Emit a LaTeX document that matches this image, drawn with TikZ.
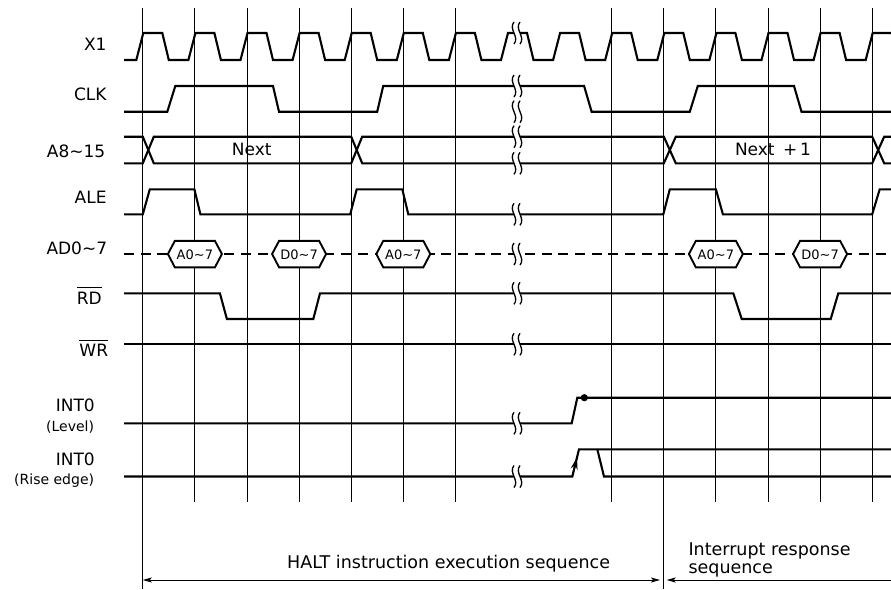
\documentclass[tikz,border=0pt]{standalone}
\usepackage{fontspec}
\setmainfont{DejaVu Sans}
\usetikzlibrary{arrows.meta}
\newcommand\gX[1]{(142.8+52.1*(#1))}
\newcommand\ovl[1]{\leavevmode\vbox{\hrule height 0.9pt\kern 3.5pt\hbox{#1}}}
\newcommand\brkmark[2]{%
  \fill[white] (#1,#2-11) .. controls (#1-6,#2-4) and (#1+6,#2+4) .. (#1,#2+11) -- (#1+6,#2+11) .. controls (#1+12,#2+4) and (#1,#2-4) .. (#1+6,#2-11) -- cycle;
  \draw[brk] (#1,#2-11) .. controls (#1-6,#2-4) and (#1+6,#2+4) .. (#1,#2+11);
  \draw[brk] (#1+6,#2-11) .. controls (#1,#2-4) and (#1+12,#2+4) .. (#1+6,#2+11);
}
\newcommand\hexbox[3]{%
  \draw[hexl] ({#1-27},254) -- ({#1-20},240.8) -- ({#1+20},240.8) -- ({#1+27},254) -- ({#1+20},267.4) -- ({#1-20},267.4) -- cycle;
  \node[boxtxt] (#3) at ({#1},254.5) {#2};
}
\tikzset{
  sig/.style={line width=2.1pt, line join=miter, miter limit=4},
  gridl/.style={line width=0.9pt},
  brk/.style={line width=1.3pt},
  hexl/.style={line width=1.9pt, fill=white, line join=miter},
  lbl/.style={anchor=base east, inner sep=0pt, font=\fontsize{17}{20}\selectfont},
  sublbl/.style={anchor=base east, inner sep=0pt, font=\fontsize{14}{16}\selectfont},
  boxtxt/.style={inner sep=0pt, font=\fontsize{13}{15}\selectfont},
  bustxt/.style={anchor=base, inner sep=0pt, font=\fontsize{17}{20}\selectfont},
  seqtxt/.style={anchor=base west, inner sep=0pt, font=\fontsize{17.5}{18.3}\selectfont},
  spanarrow/.style={line width=0.9pt},
  tip/.tip={Stealth[length=9pt,width=5pt,inset=2pt]}
}
\begin{document}
\begin{tikzpicture}[x=1pt,y=-1pt]
\useasboundingbox (0,0) rectangle (891,589);
\clip (0,0) rectangle (891,589);
\fill[white] (0,0) rectangle (891,589);

% grid lines
\foreach \k in {1,2,3,4,5,6,9,11,12,13,14}
  \draw[gridl] ({\gX{\k}},8) -- ({\gX{\k}},502);
\foreach \k in {0,10}
  \draw[gridl] ({\gX{\k}},8) -- ({\gX{\k}},589);

% X1
\draw[sig] (124,60) \foreach \k in {0,...,14} { -- ({\gX{\k}-6.5},60) -- ({\gX{\k}+0.5},33) -- ({\gX{\k}+19.5},33) -- ({\gX{\k}+26},60) };

% CLK
\draw[sig] (124,111.7) -- ({\gX{0}+24.5},111.7) -- ({\gX{0}+32.5},86) -- ({\gX{2}+26},86) -- ({\gX{2}+32},111.7)
  -- ({\gX{4}+26},111.7) -- ({\gX{4}+32},86) -- ({\gX{8}+24.5},86) -- ({\gX{8}+32},111.7)
  -- ({\gX{10}+26},111.7) -- ({\gX{10}+34},86) -- ({\gX{12}+26},86) -- ({\gX{12}+33.5},111.7) -- (891,111.7);

% A8~15
\draw[sig] (124,136.7) -- ({\gX{0}},136.7) -- ({\gX{0}+11},163.3) -- ({\gX{4}},163.3) -- ({\gX{4}+11},136.7)
  -- ({\gX{10}},136.7) -- ({\gX{10}+12},163.3) -- ({\gX{14}},163.3) -- ({\gX{14}+12},136.7) -- (891,136.7);
\draw[sig] (124,163.3) -- ({\gX{0}},163.3) -- ({\gX{0}+11},136.7) -- ({\gX{4}},136.7) -- ({\gX{4}+11},163.3)
  -- ({\gX{10}},163.3) -- ({\gX{10}+12},136.7) -- ({\gX{14}},136.7) -- ({\gX{14}+12},163.3) -- (891,163.3);
\node[bustxt] (next) at (251.7,155) {Next};
\node[bustxt] (nextp) at (773,155.5) {Next\hspace{0.5em}+\,1};

% ALE
\draw[sig] (124,214.3) -- ({\gX{0}},214.3) -- ({\gX{0}+7},189.3) -- ({\gX{1}-0.5},189.3) -- ({\gX{1}+5.5},214.3)
  -- ({\gX{4}-1},214.3) -- ({\gX{4}+5.5},189.3) -- ({\gX{5}-1},189.3) -- ({\gX{5}+5},214.3)
  -- ({\gX{10}-0.5},214.3) -- ({\gX{10}+6},189.3) -- ({\gX{11}},189.3) -- ({\gX{11}+7},214.3)
  -- ({\gX{14}},214.3) -- ({\gX{14}+7.5},189.3) -- (891,189.3);

% AD0~7
\draw[sig, dash pattern=on 10pt off 6.7pt] (124,254) -- (891,254);
\hexbox{\gX{1}}{A0\textasciitilde 7}{ba1}
\hexbox{\gX{3}}{D0\textasciitilde 7}{bd1}
\hexbox{\gX{5}}{A0\textasciitilde 7}{ba2}
\hexbox{\gX{11}}{A0\textasciitilde 7}{ba3}
\hexbox{\gX{13}}{D0\textasciitilde 7}{bd2}

% RD
\draw[sig] (124,293.3) -- (219.9,293.3) -- (226.9,319) -- (313.3,319) -- (320,293.3)
  -- (733.3,293.3) -- (741.7,319) -- (830.7,319) -- (838.3,293.3) -- (891,293.3);

% WR
\draw[sig] (124,344.3) -- (891,344.3);

% INT0 level
\draw[sig] (124,423.3) -- (571.7,423.3) -- (577.3,397.7) -- (891,397.7);
\fill (584.3,397.7) circle (3.6);

% INT0 rise edge
\draw[sig] (124,476.5) -- (572.3,476.5) -- (579,449.3) -- (891,449.3);
\draw[line width=1.6pt, -{Stealth[length=12pt,width=7pt]}] (572.3,476.5) -- (577,457.5);
\draw[sig] (597.3,449.3) -- (604,476.5) -- (891,476.5);

% break marks
\foreach \yy in {33,86,111.7,136.7,163.3,214.3,254,293.3,344.3,423.3,476.5}{
  \brkmark{514}{\yy}
}

% labels
\node[lbl] (lx1) at (106.7,50.7) {X1};
\node[lbl] (lclk) at (106.7,100) {CLK};
\node[lbl] (la8) at (105.5,157.7) {A8\textasciitilde 15};
\node[lbl] (lale) at (106.7,203.3) {ALE};
\node[lbl] (lad) at (107.3,254) {AD0\textasciitilde 7};
\node[lbl] (lrd) at (102,304) {\ovl{RD}};
\node[lbl] (lwr) at (108.3,356.7) {\ovl{WR}};
\node[lbl] (lint1) at (95,411.7) {INT0};
\node[sublbl] (llev) at (94.3,431) {(Level)};
\node[lbl] (lint2) at (95,465) {INT0};
\node[sublbl] (lrise) at (94.3,484.5) {(Rise edge)};

% sequence arrows
\coordinate (s0) at ({\gX{0}},580);
\coordinate (s1) at (660,580);
\coordinate (s2) at (666.7,580);
\coordinate (s3) at (891,580);
\draw[spanarrow, tip-tip] (s0) -- (s1);
\draw[spanarrow, tip-] (s2) -- (s3);
\node[seqtxt] (halt) at (287,568.3) {HALT instruction execution sequence};
\node[seqtxt] (irs1) at (688.3,555) {Interrupt response};
\node[seqtxt] (irs2) at (688.3,573.3) {sequence};
\end{tikzpicture}
\end{document}
